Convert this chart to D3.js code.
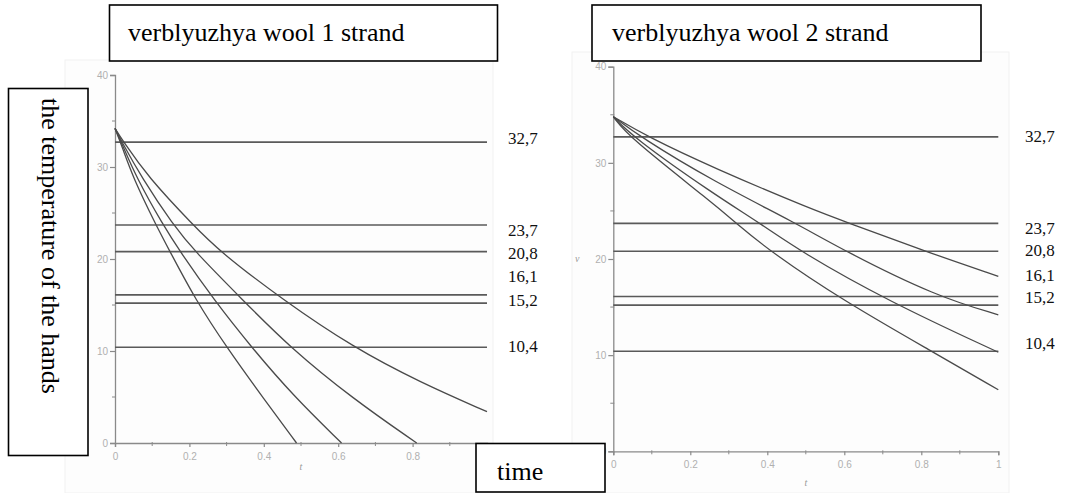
<!DOCTYPE html>
<html>
<head>
<meta charset="utf-8">
<script src="https://cdn.jsdelivr.net/npm/d3@7"></script>
<style>
  html, body { margin: 0; padding: 0; background: #fff; }
  svg { display: block; }
</style>
</head>
<body>
<svg id="chart" width="1065" height="493"></svg>
<script>
// ---------------- DATA ----------------
const titles = ["verblyuzhya wool 1 strand", "verblyuzhya wool 2 strand"];
const yAxisTitle = "the temperature of the hands";
const xAxisTitle = "time";
const levels = [32.7, 23.7, 20.8, 16.1, 15.2, 10.4];
const levelLabels = ["32,7", "23,7", "20,8", "16,1", "15,2", "10,4"];
// where each level label sits (in temperature units), as in the picture
const labelAnchors1 = [33.15, 23.15, 20.65, 18.15, 15.54, 10.54];
const labelAnchors2 = [32.77, 23.26, 20.9, 18.36, 16.07, 11.28];
const yTicks = [0, 10, 20, 30, 40];
const yMinorTicks = [5, 15, 25, 35];
const xTicks = [0, 0.2, 0.4, 0.6, 0.8, 1];
const xTickLabels = ["0", "0.2", "0.4", "0.6", "0.8", "1"];
const xMinorTicks = [0.1, 0.3, 0.5, 0.7, 0.9];

// chart 1 (1 strand): curves, time t and temperature T
const c1a_t = [0, 0.02, 0.048, 0.11, 0.148, 0.216, 0.30, 0.40, 0.488];
const c1a_T = [34.2, 32.1, 28.9, 23.7, 20.8, 15.6, 10.4, 4.8, 0];
const c1b_t = [0, 0.02, 0.057, 0.129, 0.175, 0.265, 0.367, 0.48, 0.609];
const c1b_T = [34.2, 32.4, 28.9, 23.7, 20.8, 15.6, 10.4, 5.1, 0];
const c1c_t = [0, 0.02, 0.071, 0.156, 0.215, 0.342, 0.47, 0.64, 0.811];
const c1c_T = [34.2, 32.6, 28.9, 23.7, 20.8, 15.6, 10.4, 4.8, 0];
const c1d_t = [0, 0.02, 0.089, 0.21, 0.282, 0.45, 0.64, 0.82, 1];
const c1d_T = [34.2, 32.9, 28.9, 23.7, 20.8, 15.6, 10.4, 6.6, 3.4];

// chart 2 (2 strand)
const c2a_t = [0, 0.09, 0.259, 0.519, 0.615, 0.81, 1];
const c2a_T = [34.8, 32.7, 29.5, 25.1, 23.7, 20.8, 18.2];
const c2b_t = [0, 0.07, 0.259, 0.476, 0.602, 0.84, 1];
const c2b_T = [34.8, 32.7, 28.1, 23.7, 20.8, 16.1, 14.2];
const c2c_t = [0, 0.05, 0.259, 0.382, 0.485, 0.715, 1];
const c2c_T = [34.8, 32.7, 26.8, 23.7, 20.8, 15.6, 10.3];
const c2d_t = [0, 0.04, 0.259, 0.32, 0.407, 0.6, 0.827, 1];
const c2d_T = [34.8, 32.7, 25.8, 23.7, 20.8, 15.6, 10.4, 6.4];

// ---------------- DRAW ----------------
const svg = d3.select("#chart");
const serif = "'Liberation Serif', 'Times New Roman', serif";
const sans = "'Liberation Sans', Arial, sans-serif";

function zip(ts, Ts) { return ts.map((t, i) => ({ t, T: Ts[i] })); }

function drawChart(cfg) {
  const g = svg.append("g");
  g.append("rect")
    .attr("x", cfg.bg[0]).attr("y", cfg.bg[1])
    .attr("width", cfg.bg[2] - cfg.bg[0]).attr("height", cfg.bg[3] - cfg.bg[1])
    .attr("fill", "#fdfdfd").attr("stroke", "#f1f1f1");

  const x = d3.scaleLinear().domain([0, 1]).range(cfg.xr);
  const y = d3.scaleLinear().domain([0, 40]).range(cfg.yr);

  const yAxis = d3.axisLeft(y).tickValues(yTicks).tickSize(5).tickFormat(d3.format("d"));
  const ya = g.append("g").attr("transform", `translate(${x(0)},0)`).call(yAxis);
  const xAxis = d3.axisBottom(x).tickValues(xTicks).tickSize(4)
    .tickFormat((d, i) => xTickLabels[i]);
  const xa = g.append("g").attr("transform", `translate(0,${y(0)})`).call(xAxis);
  [ya, xa].forEach(a => {
    a.select(".domain").attr("stroke", "#8a8a8a").attr("stroke-width", 1.3);
    a.selectAll(".tick line").attr("stroke", "#8a8a8a").attr("stroke-width", 1.2);
    a.selectAll(".tick text").attr("fill", "#b0b0b0")
      .style("font-family", sans).style("font-size", "10px");
  });
  ya.selectAll(".tick text").attr("x", -7);
  xa.selectAll(".tick text").attr("y", 10);
  g.append("g").selectAll("line").data(yMinorTicks).join("line")
    .attr("x1", x(0) - 3).attr("x2", x(0) + 1)
    .attr("y1", d => y(d)).attr("y2", d => y(d))
    .attr("stroke", "#8a8a8a").attr("stroke-width", 1);
  g.append("g").selectAll("line").data(xMinorTicks).join("line")
    .attr("x1", d => x(d)).attr("x2", d => x(d))
    .attr("y1", y(0) - 1).attr("y2", y(0) + 3)
    .attr("stroke", "#8a8a8a").attr("stroke-width", 1);

  g.append("text").attr("x", x(0.5)).attr("y", y(0) + cfg.tOff)
    .attr("text-anchor", "middle").attr("fill", "#999")
    .style("font-family", serif).style("font-style", "italic").style("font-size", "10px")
    .text("t");
  if (cfg.vLabel) {
    g.append("text").attr("x", x(0) - 36).attr("y", y(20) + 3)
      .attr("text-anchor", "middle").attr("fill", "#999")
      .style("font-family", serif).style("font-style", "italic").style("font-size", "10px")
      .text("v");
  }

  g.append("g").selectAll("line").data(levels).join("line")
    .attr("x1", x(0)).attr("x2", x(1))
    .attr("y1", d => y(d)).attr("y2", d => y(d))
    .attr("stroke", "#5a5a5a").attr("stroke-width", 1.6);

  const line = d3.line().x(d => x(d.t)).y(d => y(d.T)).curve(d3.curveBasis);
  g.append("g").selectAll("path").data(cfg.curves).join("path")
    .attr("d", d => line(d))
    .attr("fill", "none").attr("stroke", "#4a4a4a").attr("stroke-width", 1.3);

  g.append("g").selectAll("text").data(levelLabels).join("text")
    .attr("x", cfg.labelX).attr("y", (d, i) => y(cfg.anchors[i]) + 6)
    .attr("fill", "#111")
    .style("font-family", serif).style("font-size", "17px")
    .text(d => d);
}

drawChart({
  bg: [65, 60, 493, 493],
  xr: [115, 487], yr: [443, 75],
  curves: [zip(c1a_t, c1a_T), zip(c1b_t, c1b_T), zip(c1c_t, c1c_T), zip(c1d_t, c1d_T)],
  anchors: labelAnchors1, labelX: 508, tOff: 27, vLabel: false
});
drawChart({
  bg: [572, 52, 1009, 493],
  xr: [613.3, 998.3], yr: [451.3, 66.7],
  curves: [zip(c2a_t, c2a_T), zip(c2b_t, c2b_T), zip(c2c_t, c2c_T), zip(c2d_t, c2d_T)],
  anchors: labelAnchors2, labelX: 1025, tOff: 35, vLabel: true
});

function box(x0, y0, x1, y1) {
  svg.append("rect").attr("x", x0).attr("y", y0)
    .attr("width", x1 - x0).attr("height", y1 - y0)
    .attr("fill", "#fff").attr("stroke", "#000").attr("stroke-width", 1.6);
}
function boxText(txt, x, y, rotate) {
  const t = svg.append("text").attr("fill", "#000")
    .style("font-family", serif).style("font-size", "26px").text(txt);
  if (rotate) t.attr("transform", `translate(${x},${y}) rotate(90)`);
  else t.attr("x", x).attr("y", y);
}
box(109.5, 5, 497.5, 61);
boxText(titles[0], 128, 41);
box(592, 5, 981, 61);
boxText(titles[1], 612, 41);
box(8.5, 88.5, 88, 455.5);
boxText(yAxisTitle, 42, 98, true);
box(476, 443.5, 605, 492);
boxText(xAxisTitle, 497, 480);
</script>
</body>
</html>
